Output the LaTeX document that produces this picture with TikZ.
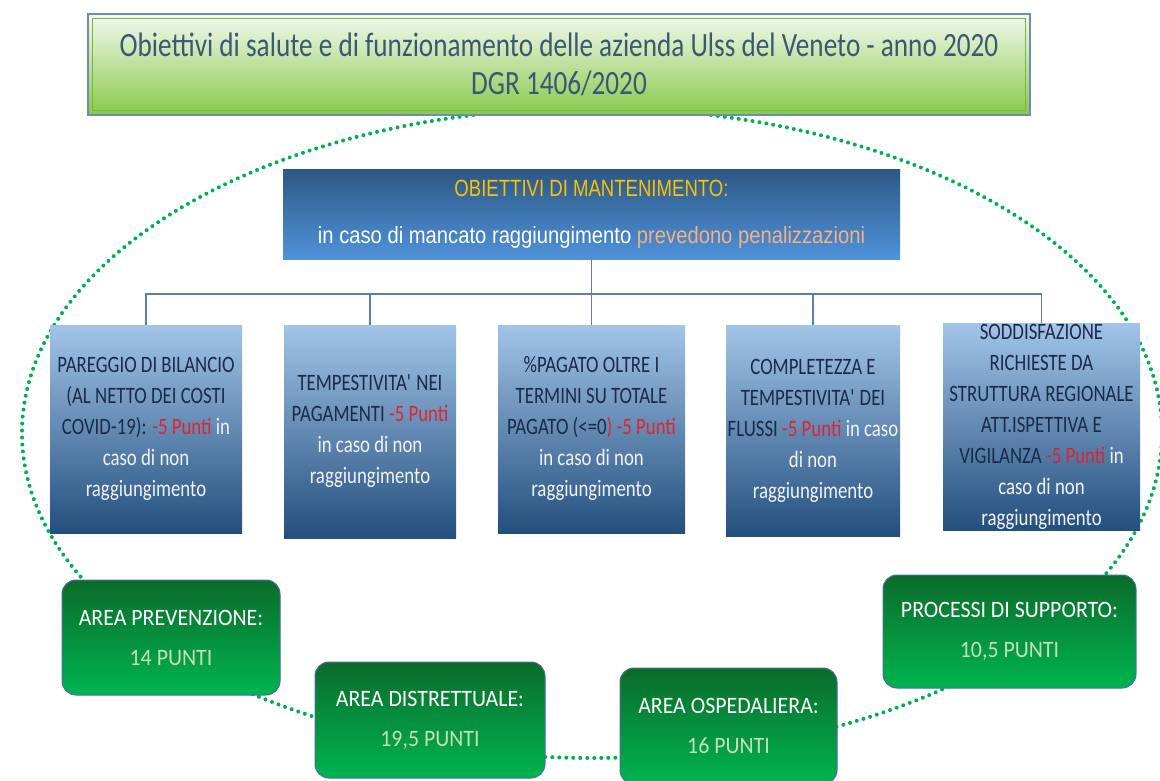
\documentclass[tikz,border=0pt]{standalone}
\usepackage{fontspec}
\newfontfamily\condfont[FakeStretch=0.8]{Carlito}
\newfontfamily\areafont[FakeStretch=0.93]{Carlito}
\newfontfamily\headfont[FakeStretch=0.86]{Liberation Sans}
\newfontfamily\headnarrow[FakeStretch=0.79]{Liberation Sans}
\definecolor{ringgreen}{HTML}{00B050}
\definecolor{titletop}{HTML}{F3F9EE}
\definecolor{titlemid}{HTML}{C8E8A8}
\definecolor{titlebot}{HTML}{88C94A}
\definecolor{titleedge}{HTML}{6E8DB3}
\definecolor{bevelgreen}{HTML}{7DB443}
\definecolor{titletext}{HTML}{3B5775}
\definecolor{headtop}{HTML}{2C5986}
\definecolor{headbot}{HTML}{5092DA}
\definecolor{gold}{HTML}{FFC000}
\definecolor{peach}{HTML}{F4B183}
\definecolor{connblue}{HTML}{5B7FAA}
\definecolor{boxtop}{HTML}{A2C4E8}
\definecolor{boxmid}{HTML}{82A7D2}
\definecolor{boxbot}{HTML}{234F7E}
\definecolor{navytext}{HTML}{1B2A4A}
\definecolor{penred}{HTML}{E0232E}
\definecolor{softwhite}{HTML}{F2F2F2}
\definecolor{areatop}{HTML}{0B6B2B}
\definecolor{areamid}{HTML}{07A043}
\definecolor{areabot}{HTML}{00B450}
\definecolor{areaedge}{HTML}{41719C}
\definecolor{lightgreen}{HTML}{C5E0B4}
\newcommand{\malus}[1]{\textcolor{penred}{#1}}
\newcommand{\soft}[1]{\textcolor{softwhite}{#1}}
\tikzset{
  ring/.style={draw=ringgreen, line width=4pt, line cap=round, dash pattern=on 0pt off 7pt},
  titlebox/.style={draw=titleedge, line width=1.5pt, top color=titletop, middle color=titlemid, bottom color=titlebot, inner sep=0pt, align=center, text=titletext, font=\condfont\fontsize{34}{38}\selectfont},
  headbox/.style={top color=headtop, bottom color=headbot, inner sep=0pt, align=center, text=white, font=\headfont\fontsize{23.5}{47}\selectfont},
  goalbox/.style={top color=boxtop, middle color=boxmid, bottom color=boxbot, inner sep=0pt, align=center, text=navytext, font=\condfont\fontsize{23.5}{31}\selectfont},
  areabox/.style={draw=areaedge, line width=1pt, rounded corners=14pt, top color=areatop, middle color=areamid, bottom color=areabot, inner sep=0pt, align=center, text=white, font=\areafont\fontsize{23.5}{40}\selectfont},
  conn/.style={draw=connblue, line width=1.8pt}
}
\begin{document}
\begin{tikzpicture}[x=1pt,y=-1pt]%
\useasboundingbox (0,0) rectangle (1160,781);%
\draw[ring] (592,433) ellipse [x radius=570, y radius=325];%
% title
\node[titlebox, minimum width=942pt, minimum height=101pt] (title) at (559,64.5) {Obiettivi di salute e di funzionamento delle azienda Ulss del Veneto - anno 2020\\ DGR 1406/2020};%
\draw[bevelgreen, line width=1pt] ([shift={(5pt,-5pt)}]title.north west) rectangle ([shift={(-5pt,5pt)}]title.south east);%
% maintenance header
\node[headbox, minimum width=617pt, minimum height=89pt] (mant) at (591.5,214.5) {\headnarrow\textcolor{gold}{OBIETTIVI DI MANTENIMENTO:}\\ in caso di mancato raggiungimento \textcolor{peach}{prevedono penalizzazioni}};%
\coordinate (bus) at (591.5,294);%
% goals
\node[goalbox, minimum width=192pt, minimum height=208pt] (pareggio) at (146,429) {PAREGGIO DI BILANCIO\\ (AL NETTO DEI COSTI\\ COVID-19): \malus{-5 Punti} \soft{in}\\ \soft{caso di non}\\ \soft{raggiungimento}};%
\node[goalbox, minimum width=172pt, minimum height=213pt] (tempi) at (370,431.5) {TEMPESTIVITA\textquotesingle{} NEI\\ PAGAMENTI \malus{-5 Punti}\\ \soft{in caso di non}\\ \soft{raggiungimento}};%
\node[goalbox, minimum width=187pt, minimum height=208pt] (pagato) at (591.5,429) {\%PAGATO OLTRE I\\ TERMINI SU TOTALE\\ PAGATO (<=0\malus{) -5 Punti}\\ \soft{in caso di non}\\ \soft{raggiungimento}};%
\node[goalbox, minimum width=174pt, minimum height=211pt] (flussi) at (813,430.5) {COMPLETEZZA E\\ TEMPESTIVITA\textquotesingle{} DEI\\ FLUSSI \malus{-5 Punti} \soft{in caso}\\ \soft{di non}\\ \soft{raggiungimento}};%
\node[goalbox, minimum width=197pt, minimum height=207pt] (vigil) at (1041.5,426.5) {SODDISFAZIONE\\ RICHIESTE DA\\ STRUTTURA REGIONALE\\ ATT.ISPETTIVA E\\ VIGILANZA \malus{-5 Punti} \soft{in}\\ \soft{caso di non}\\ \soft{raggiungimento}};%
\draw[conn] (mant.south) -- (bus);%
\foreach \g in {pareggio,tempi,pagato,flussi,vigil} {\draw[conn] (\g.north) |- (bus);}%
% areas
\node[areabox, minimum width=218pt, minimum height=115pt] (prev) at (171,637.5) {AREA PREVENZIONE:\\ \textcolor{lightgreen}{14 PUNTI}};%
\node[areabox, minimum width=230pt, minimum height=116pt] (distr) at (430,720) {AREA DISTRETTUALE:\\ \textcolor{lightgreen}{19,5 PUNTI}};%
\node[areabox, minimum width=217pt, minimum height=116pt] (osped) at (728.5,726) {AREA OSPEDALIERA:\\ \textcolor{lightgreen}{16 PUNTI}};%
\node[areabox, minimum width=253pt, minimum height=113pt] (suppo) at (1009.5,631.5) {PROCESSI DI SUPPORTO:\\ \textcolor{lightgreen}{10,5 PUNTI}};%
\end{tikzpicture}
\end{document}
